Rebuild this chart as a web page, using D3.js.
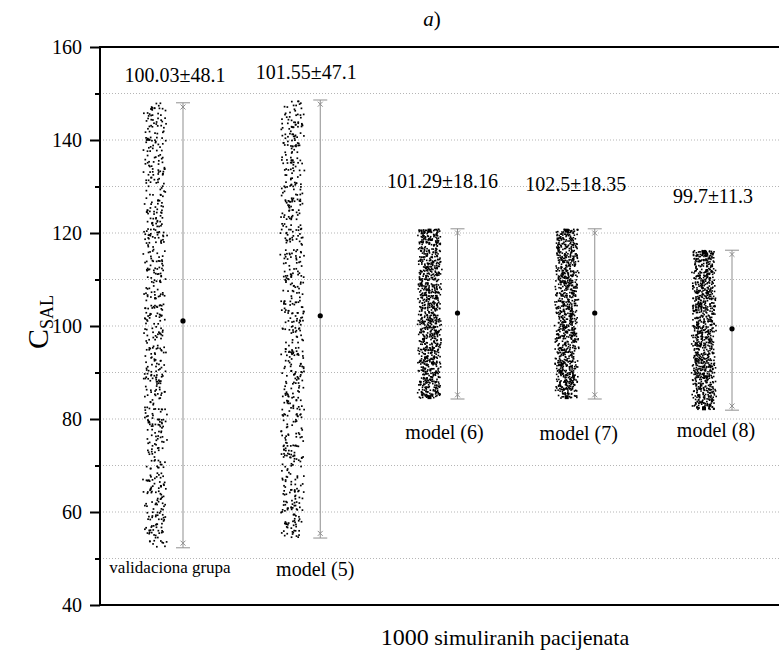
<!DOCTYPE html>
<html>
<head>
<meta charset="utf-8">
<script src="https://cdn.jsdelivr.net/npm/d3@7"></script>
<style>
  body { margin: 0; background: #fff; }
  svg { display: block; }
  text { font-family: "Liberation Serif", "Times New Roman", serif; fill: #000; }
</style>
</head>
<body>
<svg id="chart" width="779" height="656" font-family="Liberation Serif, serif"></svg>
<script>
// ---- data ----
const groups = ["validaciona grupa", "model (5)", "model (6)", "model (7)", "model (8)"];
const statLabels = ["100.03±48.1", "101.55±47.1", "101.29±18.16", "102.5±18.35", "99.7±11.3"];
// whisker caps (lowest / highest value of each stripe)
const whiskerLow  = [52.3, 54.4, 84.3, 84.3, 81.9];
const whiskerHigh = [148.0, 148.6, 120.9, 120.9, 116.3];
// small cross markers just inside the caps
const markLow  = [53.3, 55.4, 85.2, 85.2, 82.8];
const markHigh = [147.1, 147.7, 120.0, 120.0, 115.4];
// central value shown as a dot on each whisker
const centerValues = [101.1, 102.2, 102.8, 102.8, 99.4];
// distribution of the simulated values per stripe: bin edges and counts
const binEdges = [
  [52, 60, 70, 80, 90, 100, 110, 120, 130, 140, 148],
  [54.5, 60, 70, 80, 90, 100, 110, 120, 130, 140, 148.6],
  [84.5, 90, 95, 100, 105, 110, 115, 120.8],
  [84.5, 90, 95, 100, 105, 110, 115, 120.8],
  [82, 85, 90, 95, 100, 105, 110, 116.2]
];
const binCounts = [
  [56, 68, 66, 70, 66, 68, 70, 66, 68, 56],
  [40, 70, 68, 72, 70, 68, 70, 72, 70, 60],
  [150, 138, 138, 138, 138, 138, 160],
  [150, 138, 138, 138, 138, 138, 160],
  [90, 145, 145, 145, 145, 145, 185]
];
const yTicks = [40, 60, 80, 100, 120, 140, 160];
const yMinorTicks = [50, 70, 90, 110, 130, 150];
const gridValues = [50, 60, 70, 80, 90, 100, 110, 120, 130, 140, 150];
const xTitleNumber = "1000";
const xTitleRest = " simuliranih pacijenata";

// ---- layout ----
const plot = { left: 100, top: 47, right: 781, bottom: 605 };
const stripeHalfWidth = 12.5;
const whiskerOffset = 28;
// label placement: [dx from stripe centre, baseline y]
const topLabelPlace = [[20, 82], [14, 79], [13, 188], [9, 191], [9, 203]];
const bottomLabelPlace = [[15, 573], [23, 576], [15, 439], [12, 440], [12, 437]];
const bottomLabelSize = [17, 20, 20, 20, 20];
const dotSize = [1.7, 1.7, 1.6, 1.6, 1.6];

const svg = d3.select("#chart");

const y = d3.scaleLinear().domain([40, 160]).range([plot.bottom, plot.top]);
const x = d3.scalePoint().domain(groups).range([155, 704]);

// gridlines
svg.append("g")
  .selectAll("line").data(gridValues).join("line")
  .attr("x1", plot.left).attr("x2", plot.right)
  .attr("y1", d => y(d)).attr("y2", d => y(d))
  .attr("stroke", "#b5b5b5").attr("stroke-width", 1)
  .attr("stroke-dasharray", "1,2");

// stripes of simulated values: each bin's count is spread over the bin,
// with an integer hash of the point index giving the in-bin jitter
function hash01(n) {
  let h = n | 0;
  h = Math.imul(h ^ (h >>> 16), 0x85ebca6b);
  h = Math.imul(h ^ (h >>> 13), 0xc2b2ae35);
  h ^= h >>> 16;
  return (h >>> 0) / 4294967296;
}
const pts = [];
groups.forEach((g, gi) => {
  const edges = binEdges[gi];
  let idx = 1 + gi * 1237;
  binCounts[gi].forEach((n, bi) => {
    const lo = edges[bi], hi = edges[bi + 1];
    for (let k = 0; k < n; k++, idx++) {
      const t = hash01(idx * 4 + 1);
      const u = hash01(idx * 4 + 2), w = hash01(idx * 4 + 3);
      const dx = (0.8 * u + 0.2 * w - 0.5) * 2 * stripeHalfWidth;
      pts.push({ g, gi, v: lo + t * (hi - lo), dx });
    }
  });
});
svg.append("g")
  .selectAll("rect").data(pts).join("rect")
  .attr("x", d => x(d.g) + d.dx - dotSize[d.gi] / 2)
  .attr("y", d => y(d.v) - dotSize[d.gi] / 2)
  .attr("width", d => dotSize[d.gi]).attr("height", d => dotSize[d.gi])
  .attr("fill", "#000");

// extreme values drawn as heavier squares on the dense stripes
const extremes = [];
[2, 3, 4].forEach(i => {
  extremes.push({ g: groups[i], v: whiskerHigh[i] - 0.4 }, { g: groups[i], v: whiskerLow[i] + 0.4 });
});
svg.append("g").selectAll("rect").data(extremes).join("rect")
  .attr("x", d => x(d.g) - 2).attr("y", d => y(d.v) - 2)
  .attr("width", 4).attr("height", 4).attr("fill", "#000");

// whiskers
const wg = svg.append("g").attr("stroke", "#8f8f8f").attr("stroke-width", 1).attr("fill", "none");
groups.forEach((g, i) => {
  const cx = x(g) + whiskerOffset;
  wg.append("line").attr("x1", cx).attr("x2", cx).attr("y1", y(whiskerLow[i])).attr("y2", y(whiskerHigh[i]));
  [whiskerLow[i], whiskerHigh[i]].forEach(v => {
    wg.append("line").attr("x1", cx - 7).attr("x2", cx + 7).attr("y1", y(v)).attr("y2", y(v));
  });
  [markLow[i], markHigh[i]].forEach(v => {
    const yy = y(v);
    wg.append("path").attr("d", `M${cx - 2.5},${yy - 2.5}L${cx + 2.5},${yy + 2.5}M${cx - 2.5},${yy + 2.5}L${cx + 2.5},${yy - 2.5}`);
  });
});
svg.append("g").selectAll("circle").data(groups).join("circle")
  .attr("cx", d => x(d) + whiskerOffset)
  .attr("cy", (d, i) => y(centerValues[i]))
  .attr("r", 2.6).attr("fill", "#000");

// value labels above stripes
svg.append("g").selectAll("text").data(groups).join("text")
  .attr("x", (d, i) => x(d) + topLabelPlace[i][0])
  .attr("y", (d, i) => topLabelPlace[i][1])
  .attr("text-anchor", "middle").attr("font-size", 20)
  .text((d, i) => statLabels[i]);

// group names below stripes
svg.append("g").selectAll("text").data(groups).join("text")
  .attr("x", (d, i) => x(d) + bottomLabelPlace[i][0])
  .attr("y", (d, i) => bottomLabelPlace[i][1])
  .attr("text-anchor", "middle")
  .attr("font-size", (d, i) => bottomLabelSize[i])
  .text(d => d);

// frame
svg.append("rect")
  .attr("x", plot.left).attr("y", plot.top)
  .attr("width", plot.right - plot.left).attr("height", plot.bottom - plot.top)
  .attr("fill", "none").attr("stroke", "#000").attr("stroke-width", 2);

// y axis
const yAxis = svg.append("g").attr("transform", `translate(${plot.left},0)`)
  .call(d3.axisLeft(y).tickValues(yTicks).tickSize(10).tickSizeOuter(0).tickPadding(8));
yAxis.attr("font-family", null);
yAxis.select(".domain").remove();
yAxis.selectAll(".tick line").attr("stroke-width", 2);
yAxis.selectAll(".tick text").attr("font-size", 20).attr("fill", "#000");
const yMinor = svg.append("g").attr("transform", `translate(${plot.left},0)`)
  .call(d3.axisLeft(y).tickValues(yMinorTicks).tickSize(5).tickSizeOuter(0).tickFormat(""));
yMinor.select(".domain").remove();
yMinor.selectAll(".tick line").attr("stroke-width", 2);

// y axis title
const yTitle = svg.append("text")
  .attr("transform", `translate(48,322) rotate(-90)`)
  .attr("text-anchor", "middle").attr("font-size", 30);
yTitle.append("tspan").text("C");
yTitle.append("tspan").attr("font-size", 18).attr("dy", "0.3em").text("SAL");

// x axis title
const xTitle = svg.append("text")
  .attr("x", 505).attr("y", 645).attr("text-anchor", "middle").attr("font-size", 22);
xTitle.append("tspan").attr("font-size", 24).text(xTitleNumber);
xTitle.append("tspan").text(xTitleRest);

// panel title
const title = svg.append("text").attr("x", 432).attr("y", 26).attr("text-anchor", "middle").attr("font-size", 21);
title.append("tspan").attr("font-style", "italic").text("a");
title.append("tspan").text(")");
</script>
</body>
</html>
